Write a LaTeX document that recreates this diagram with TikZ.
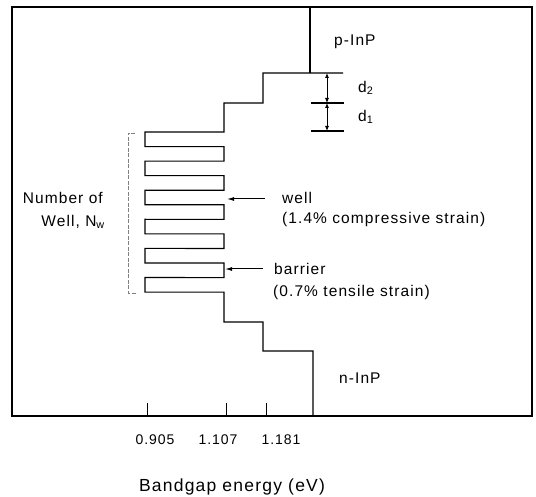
\documentclass[tikz,border=0pt]{standalone}
\usepackage{fontspec}
\setmainfont{Liberation Sans}[LetterSpace=7]
\usepackage{tikz}
\usetikzlibrary{arrows.meta, positioning}

\tikzset{
    level/.style={line width=1.1pt, line join=miter},
    frame/.style={line width=2.4pt},
    dimarrow/.style={line width=0.8pt, {Latex[length=5pt,width=4pt]}-{Latex[length=5pt,width=4pt]}},
    pointer/.style={line width=1pt, -{Latex[length=7pt,width=4pt]}},
    bracket/.style={gray, line width=0.6pt, dash pattern=on 4pt off 1.5pt},
    lbl/.style={inner sep=0pt, anchor=west},
}

\begin{document}
\begin{tikzpicture}[x=1pt, y=-1pt, font=\fontsize{15.5}{18}\selectfont]
    \useasboundingbox (0,0) rectangle (536,497);

    % Frame (bottom side is the energy axis)
    \draw[frame] (12,7) rectangle (532,416);

    % Axis ticks and labels
    \foreach \x/\lx/\label [count=\i] in {147/155/0.905, 226/218/1.107, 266/281/1.181} {
        \draw[line width=1pt] (\x,416) -- (\x,403);
        \node[font=\fontsize{14}{16}\selectfont] (tick\i) at (\lx,440) {\label};
    }
    \node[font=\fontsize{17.5}{20}\selectfont] (axislabel) at (232,487) {Bandgap energy (eV)};

    % Band profile: p-InP, steps, wells, steps, n-InP
    \draw[level] (310,7) -- (310,73);
    \draw[level] (343,73) -- (263,73) -- (263,103) -- (224,103) -- (224,132)
        \foreach \i in {0,...,5} {
            -- (145,{132+29.1*\i}) -- (145,{146.6+29.1*\i})
            -- (224,{146.6+29.1*\i}) -- (224,{161.2+29.1*\i})
        }
        -- (224,322) -- (263,322) -- (263,351) -- (313,351) -- (313,416);

    % Layer thickness markers
    \draw[level] (311,103) -- (344,103);
    \draw[level] (311,131) -- (344,131);
    \coordinate (dtop) at (327,73);
    \coordinate (dmid) at (327,103);
    \coordinate (dbot) at (327,131);
    \draw[dimarrow] (dtop) -- (dmid);
    \draw[dimarrow] (dmid) -- (dbot);
    \node[lbl] (d2) at (358,88) {d\textsubscript{2}};
    \node[lbl] (d1) at (358,117) {d\textsubscript{1}};

    % Cladding labels
    \node[lbl] (pInP) at (334,42) {p-InP};
    \node[lbl] (nInP) at (339,378) {n-InP};

    % Number of wells
    \draw[bracket] (135,133) -- (128,133) -- (128,293) -- (137,293);
    \node[lbl, anchor=east] (numof) at (103,198) {Number of};
    \node[lbl, anchor=east] (numwell) at (105,222) {Well, N\textsubscript{w}};

    % Well and barrier pointers
    \coordinate (wellTip) at (227,199);
    \coordinate (wellTail) at (265,199);
    \draw[pointer] (wellTail) -- (wellTip);
    \node[lbl] (well) at (282,198) {well};
    \node[lbl] (wellstrain) at (282,219) {(1.4\% compressive strain)};

    \coordinate (barrierTip) at (225,269);
    \coordinate (barrierTail) at (263,269);
    \draw[pointer] (barrierTail) -- (barrierTip);
    \node[lbl] (barrier) at (274,269) {barrier};
    \node[lbl] (barrierstrain) at (273,292) {(0.7\% tensile strain)};
\end{tikzpicture}
\end{document}
